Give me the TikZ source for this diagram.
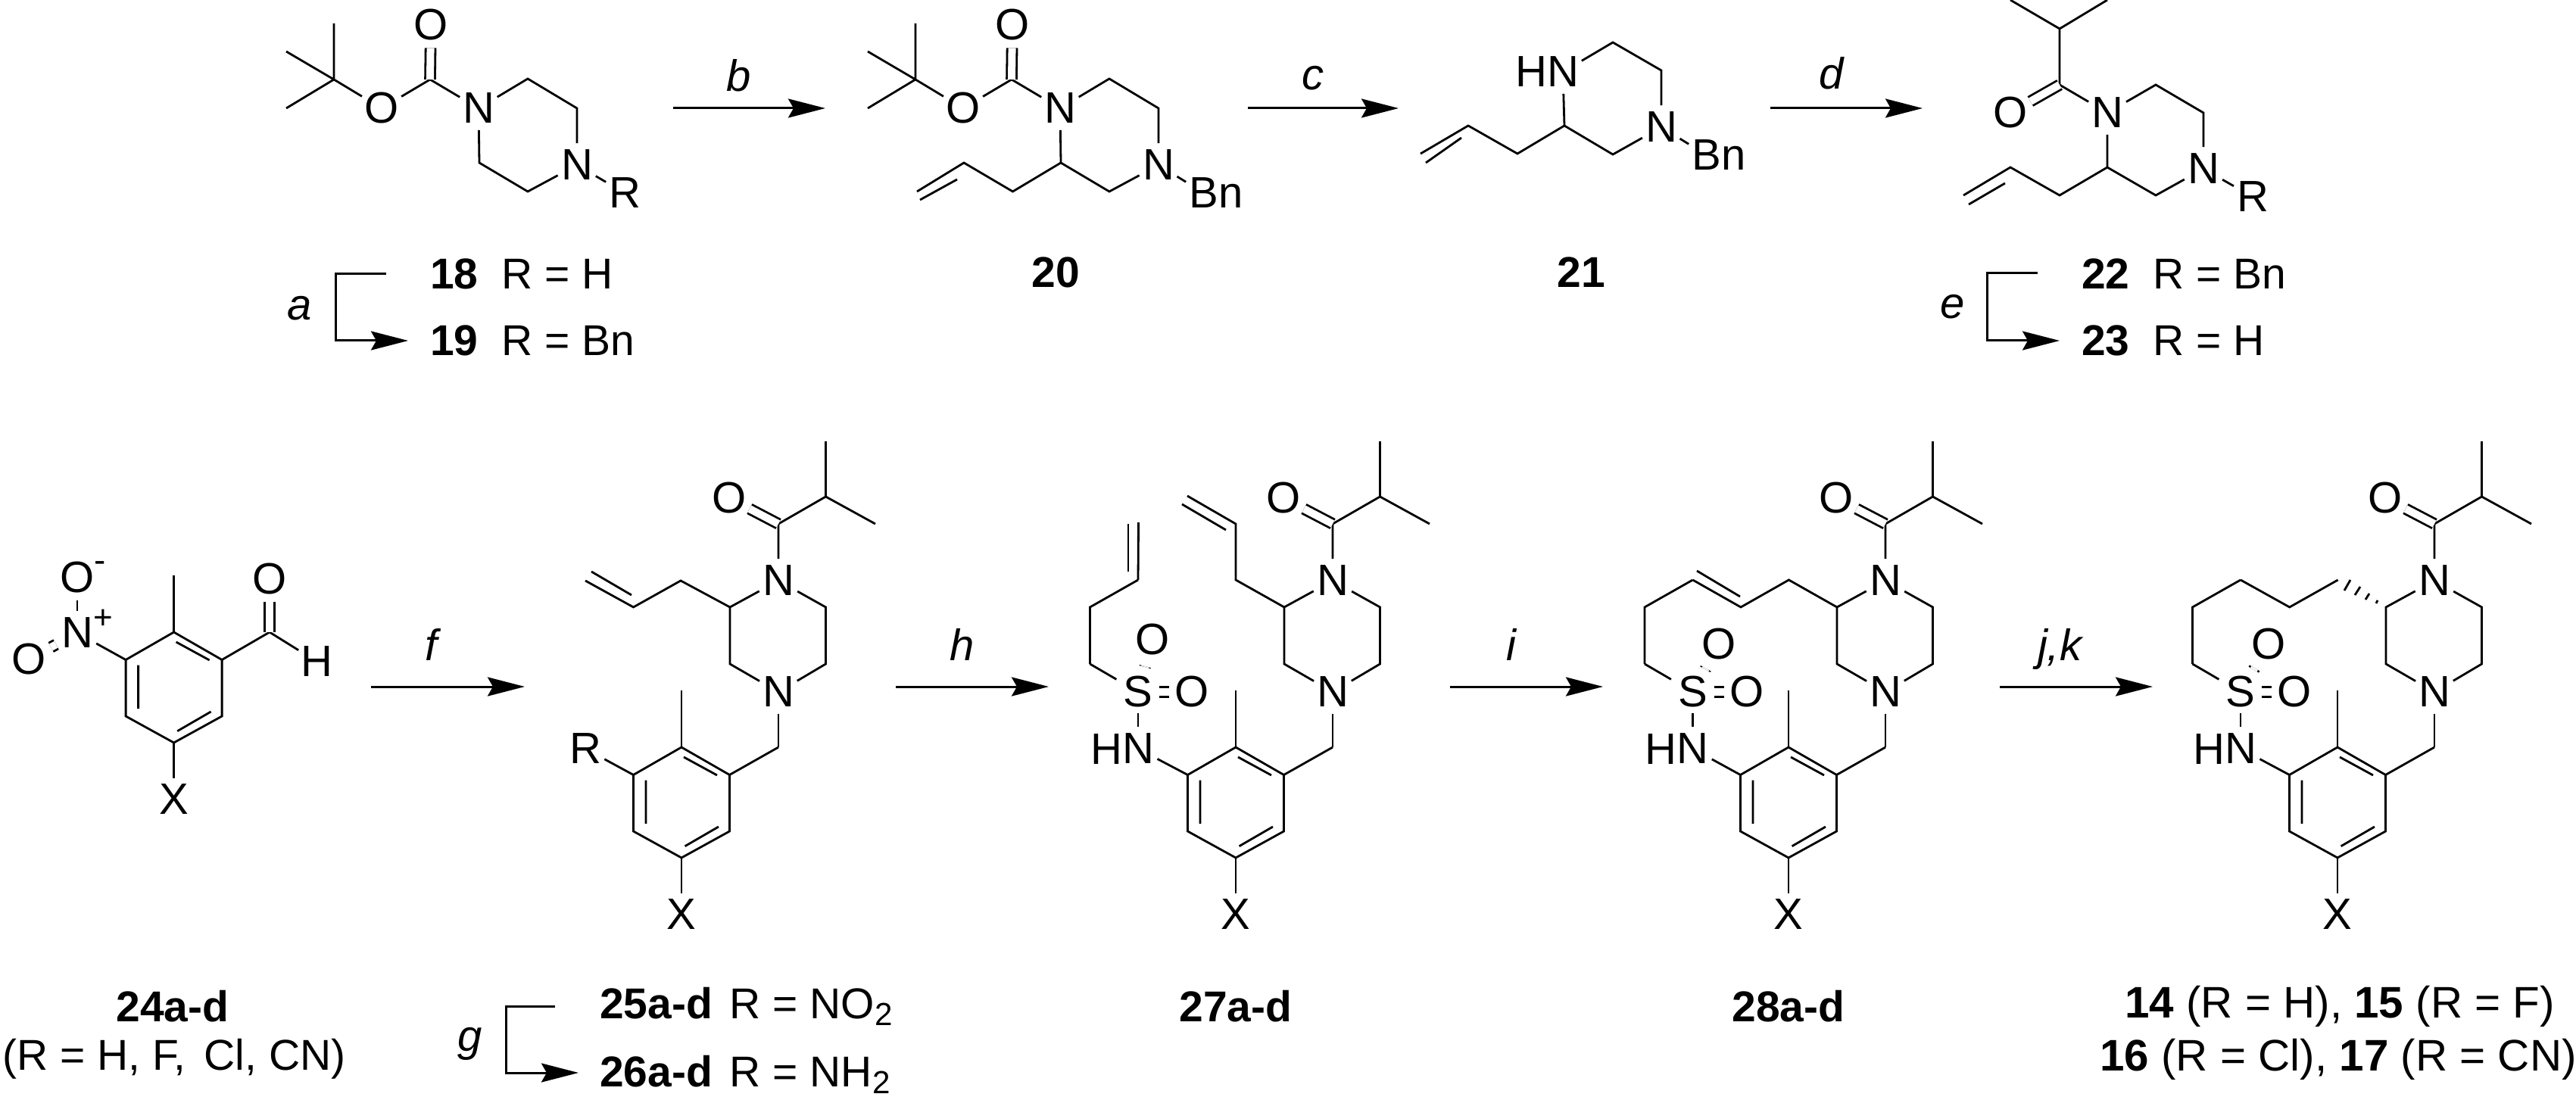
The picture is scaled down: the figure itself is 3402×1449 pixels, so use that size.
\documentclass[tikz,border=0pt]{standalone}
\usepackage{fontspec}
\setmainfont{Liberation Sans}
\usetikzlibrary{arrows.meta}
\newcommand{\subtwo}{\raisebox{-0.09cm}{\fontsize{12}{12}\selectfont 2}}
\tikzset{
  bond/.style={line width=0.028cm,line join=miter},
  dbl/.style={bond,double,double distance=0.10cm},
  rxn/.style={line width=0.03cm,-{Stealth[length=0.49cm,width=0.25cm,inset=0.07cm]}},
  txt/.style={font=\fontsize{16.5}{19}\selectfont,inner sep=0pt,outer sep=0pt,text=black},
  lab/.style={txt,font=\fontsize{16.2}{19}\selectfont},
  big/.style={txt,font=\fontsize{16.6}{19}\selectfont},
  atom/.style={txt,circle,minimum size=0.56cm},
  atoms/.style={txt,circle,minimum size=0.48cm},
  cond/.style={txt,font=\fontsize{16.5}{19}\selectfont\itshape},
  caplabel/.style={lab,anchor=west},
}
% benzene ring, origin at its top carbon
\newcommand{\arene}[3]{%
\begin{scope}[shift={(#2,#3)},name prefix=#1]
  \coordinate (t) at (0,0);
  \coordinate (c1) at (63.5,36.5);
  \coordinate (c6) at (63.5,111);
  \coordinate (c5) at (0,146);
  \coordinate (c4) at (-63.5,111);
  \coordinate (c3) at (-63.5,36.5);
  \coordinate (me) at (0,-75);
  \node[atom] (x) at (0,221) {X};
  \draw[bond] (t)--(c1)--(c6)--(c5)--(c4)--(c3)--cycle;
  \draw[bond] (t)--(me) (c5)--(x);
  \draw[bond] (3,13)--(47,37) (-47,43.5)--(-47,101) (4.6,130.7)--(49,105);
\end{scope}}
% isobutyryl piperazine with benzyl ring
\newcommand{\corepart}[1]{%
\begin{scope}[shift={(#1,0)},name prefix=c#1-]
  \coordinate (me1) at (1090.5,583);
  \coordinate (ch) at (1090.5,656);
  \coordinate (me2) at (1156,692);
  \coordinate (co) at (1028,692);
  \node[atom] (o) at (963,658) {O};
  \node[atom] (n1) at (1028,767) {N};
  \coordinate (r2) at (1090.5,802);
  \coordinate (r3) at (1090.5,877);
  \node[atom] (n2) at (1028,914) {N};
  \coordinate (r5) at (964,877);
  \coordinate (r6) at (964,802);
  \coordinate (ch2) at (1028,987);
  \draw[bond] (me1)--(ch)--(me2) (ch)--(co)--(n1);
  \draw[dbl] (o)--(co);
  \draw[bond] (n1)--(r2)--(r3)--(n2)--(r5)--(r6)--(n1);
  \draw[bond] (n2)--(ch2);
\end{scope}
\arene{a#1-}{900+#1}{987}
\draw[bond] (c#1-ch2)--(a#1-c1);}
% sulfonamide with its chain
\newcommand{\sulfon}[5]{%
\begin{scope}[shift={(#2,914)},name prefix=#1]
  \node[atoms] (s) at (0,0) {S};
  \node[atoms] (o1) at (#3,#4) {O};
  \node[atoms] (o2) at (71.5,0) {O};
  \node[atom] (n) at (0,75) {N};
  \node[txt,anchor=base east] (h) at (-21,95) {H};
  \coordinate (p1) at (-63.5,-37);
  \coordinate (p2) at (-63.5,-112);
  \coordinate (p3) at (0,-148);
  \draw[dbl,shorten <=0.06cm,shorten >=0.06cm] (s)--(o1);
  \draw[dbl] (s)--(o2);
  \draw[bond] (s)--(n);
  \draw[bond] (p3)--(p2)--(p1);
  \draw[bond,shorten >=0.05cm] (p1)--(s);
\end{scope}
\draw[bond] (#1n)--(#5);}
% Boc piperazine
\newcommand{\bocpip}[1]{%
\begin{scope}[shift={(#1,0)},name prefix=b#1-]
  \coordinate (tb) at (441,105);
  \coordinate (m1) at (441,31);
  \coordinate (m2) at (378,68);
  \coordinate (m3) at (378,143);
  \node[atom] (oe) at (504,143) {O};
  \coordinate (cc) at (568,105);
  \node[atom] (oc) at (569,33) {O};
  \node[atom] (n1) at (632,143) {N};
  \coordinate (r2) at (697,104);
  \coordinate (r3) at (762,143);
  \node[atom] (n2) at (762,218) {N};
  \coordinate (r5) at (697,253);
  \coordinate (r6) at (633,215);
  \draw[bond] (m1)--(tb)--(m2) (tb)--(m3) (tb)--(oe)--(cc)--(n1);
  \draw[dbl] (oc)--(cc);
  \draw[bond] (n1)--(r2)--(r3)--(n2)--(r5)--(r6)--(n1);
\end{scope}}
\begin{document}
\begin{tikzpicture}[x=0.01cm,y=-0.01cm]
\useasboundingbox[fill=white] (0,0) rectangle (3402,1449);

% ---- 18
\bocpip{0}
\node[atom] (r18) at (825,255) {R};
\draw[bond] (b0-n2)--(r18);
\node[caplabel] (l18) at (568,362) {\textbf{18}\hspace{0.31cm}R = H};
\node[caplabel] (l19) at (568,450) {\textbf{19}\hspace{0.31cm}R = Bn};
\coordinate (a1) at (510,362);
\coordinate (a2) at (443,362);
\coordinate (a3) at (443,450);
\coordinate (a4) at (539,450);
\draw[rxn] (a1)--(a2)--(a3)--(a4);
\node[cond] (la) at (396,407) {a};

% ---- b
\coordinate (b1) at (889,143);
\coordinate (b2) at (1090,143);
\draw[rxn] (b1)--(b2);
\node[cond] (lb) at (976,100) {b};

% ---- 20
\bocpip{768}
\node[atom] (bn20) at (1590,255) {B};
\node[txt,anchor=base west] (bn20n) at (1609.4,275) {n};
\draw[bond] (b768-n2)--(bn20);
\coordinate (e1) at (1337.5,253);
\coordinate (e2) at (1273,215);
\coordinate (e3) at (1211,253);
\draw[bond] (b768-r6)--(e1)--(e2)--(e3);
\draw[bond] (1264,237)--(1215,264);
\node[lab] (l20) at (1394,360) {\textbf{20}};

% ---- c
\coordinate (c1) at (1648,143);
\coordinate (c2) at (1847,143);
\draw[rxn] (c1)--(c2);
\node[cond] (lc) at (1734,103) {c};

% ---- 21
\node[atom] (n21a) at (2064,95) {N};
\node[txt,anchor=base east] (h21) at (2043,115) {H};
\coordinate (f1) at (2130,56);
\coordinate (f2) at (2194,93);
\node[atom] (n21b) at (2194,168) {N};
\coordinate (f3) at (2130,204);
\coordinate (f4) at (2066,166);
\coordinate (f5) at (2004,203);
\coordinate (f6) at (1939,166);
\coordinate (f7) at (1876,203);
\node[atom] (bn21) at (2254,205) {B};
\node[txt,anchor=base west] (bn21n) at (2273.4,225) {n};
\draw[bond] (n21a)--(f1)--(f2)--(n21b)--(f3)--(f4)--(n21a);
\draw[bond] (f4)--(f5)--(f6)--(f7);
\draw[bond] (1930,182)--(1883,215);
\draw[bond] (n21b)--(bn21);
\node[lab] (l21) at (2088,360) {\textbf{21}};

% ---- d
\coordinate (d1) at (2338,143);
\coordinate (d2) at (2539,143);
\draw[rxn] (d1)--(d2);
\node[cond] (ld) at (2419,97) {d};

% ---- 22
\coordinate (g1) at (2655,0);
\coordinate (g2) at (2720,38);
\coordinate (g3) at (2783,0);
\coordinate (g4) at (2720,112);
\node[atom] (o22) at (2655,149) {O};
\node[atom] (n22a) at (2783,149) {N};
\coordinate (g5) at (2847,112);
\coordinate (g6) at (2910,149);
\node[atom] (n22b) at (2910,223) {N};
\coordinate (g7) at (2847,258);
\coordinate (g8) at (2783,221);
\coordinate (g9) at (2720,258);
\coordinate (g10) at (2655,221);
\coordinate (g11) at (2593,258);
\node[atom] (r22) at (2975,260) {R};
\draw[bond] (g1)--(g2)--(g3) (g2)--(g4)--(n22a);
\draw[dbl] (o22)--(g4);
\draw[bond] (n22a)--(g5)--(g6)--(n22b)--(g7)--(g8)--(n22a);
\draw[bond] (g8)--(g9)--(g10)--(g11);
\draw[bond] (2648,242)--(2600,270);
\draw[bond] (n22b)--(r22);
\node[caplabel] (l22) at (2749,362) {\textbf{22}\hspace{0.31cm}R = Bn};
\node[caplabel] (l23) at (2749,450) {\textbf{23}\hspace{0.31cm}R = H};
\coordinate (h1) at (2691,361);
\coordinate (h2) at (2624,361);
\coordinate (h3) at (2624,450);
\coordinate (h4) at (2720,450);
\draw[rxn] (h1)--(h2)--(h3)--(h4);
\node[cond] (le) at (2579,405) {e};

% ---- 24
\arene{a24-}{229.6}{835}
\coordinate (k1) at (356,835);
\node[atom] (o24) at (356,765) {O};
\node[atom] (h24) at (418.6,874) {H};
\node[atom] (n24) at (102,836) {N};
\node[txt] (np24) at (136,818) {\fontsize{12.5}{12.5}\selectfont +};
\node[atom] (om24) at (102,763) {O};
\node[txt] (mn24) at (132,749) {\fontsize{13}{13}\selectfont -};
\node[atom] (ol24) at (38,871) {O};
\draw[bond] (a24-c1)--(k1)--(h24);
\draw[dbl] (o24)--(k1);
\draw[bond] (n24)--(a24-c3);
\draw[bond] (n24)--(om24);
\draw[dbl,shorten <=0.03cm,shorten >=0.03cm] (n24)--(ol24);
\node[lab] (l24) at (228,1329) {\textbf{24a-d}};
\node[lab] (l24b) at (230,1399) {(R = H, F,\hspace{0.24cm}Cl, CN)};

% ---- f
\coordinate (i1) at (490,907);
\coordinate (i2) at (693,907);
\draw[rxn] (i1)--(i2);
\node[cond] (lf) at (570,851) {f};

% ---- 25
\corepart{0}
\node[atom] (r25) at (773,989) {R};
\draw[bond] (r25)--(a0-c3);
\coordinate (j1) at (899,767);
\coordinate (j2) at (836.5,802);
\coordinate (j3) at (773,767);
\draw[bond] (c0-r6)--(j1)--(j2)--(j3);
\draw[bond] (781,755)--(834,786);
\node[caplabel] (l25) at (792,1329) {\textbf{25a-d}\hspace{0.07cm} R = NO\subtwo};
\node[caplabel] (l26) at (792,1419) {\textbf{26a-d}\hspace{0.07cm} R = NH\subtwo};
\coordinate (m1) at (733,1329);
\coordinate (m2) at (668,1329);
\coordinate (m3) at (668,1417);
\coordinate (m4) at (764,1417);
\draw[rxn] (m1)--(m2)--(m3)--(m4);
\node[cond] (lg) at (621,1379) {g};

% ---- h
\coordinate (o1) at (1183,907);
\coordinate (o2) at (1385,907);
\draw[rxn] (o1)--(o2);
\node[cond] (lh) at (1271,851) {h};

% ---- 27
\corepart{732}
\sulfon{s27-}{1503}{19}{-69}{a732-c3}
\coordinate (p1) at (1632,766);
\coordinate (p2) at (1632,692);
\coordinate (p3) at (1568,655);
\draw[bond] (c732-r6)--(p1)--(p2)--(p3);
\draw[bond] (1619,700)--(1561,666);
\coordinate (q1) at (1503.5,690);
\draw[bond] (s27-p3)--(q1);
\draw[bond] (1490,692)--(1490,755);
\node[lab] (l27) at (1632,1329) {\textbf{27a-d}};

% ---- i
\coordinate (t1) at (1915,907);
\coordinate (t2) at (2117,907);
\draw[rxn] (t1)--(t2);
\node[cond] (li) at (1996,851) {i};

% ---- 28
\corepart{1462}
\sulfon{s28-}{2235.5}{35}{-63}{a1462-c3}
\coordinate (u1) at (2299,802);
\coordinate (u2) at (2362.4,766);
\draw[bond] (s28-p3)--(u1)--(u2)--(c1462-r6);
\draw[bond] (2241,754)--(2298,788);
\node[lab] (l28) at (2362,1329) {\textbf{28a-d}};

% ---- j,k
\coordinate (v1) at (2641,907);
\coordinate (v2) at (2843,907);
\draw[rxn] (v1)--(v2);
\node[cond] (ljk) at (2720,857) {j,k};

% ---- 14
\corepart{2187}
\sulfon{s14-}{2959}{37}{-63}{a2187-c3}
\coordinate (w1) at (3023.7,802);
\coordinate (w2) at (3087.6,766);
\draw[bond] (s14-p3)--(w1)--(w2);
\draw[bond] (3096,780)--(3104,766) (3110,786)--(3117,775) (3124,792)--(3129,784) (3138,797)--(3140,793);
\node[big] (l14) at (3090,1329) {\textbf{14} (R = H), \textbf{15} (R = F)};
\node[big] (l16) at (3088,1399) {\textbf{16} (R = Cl), \textbf{17} (R = CN)};
\end{tikzpicture}
\end{document}
